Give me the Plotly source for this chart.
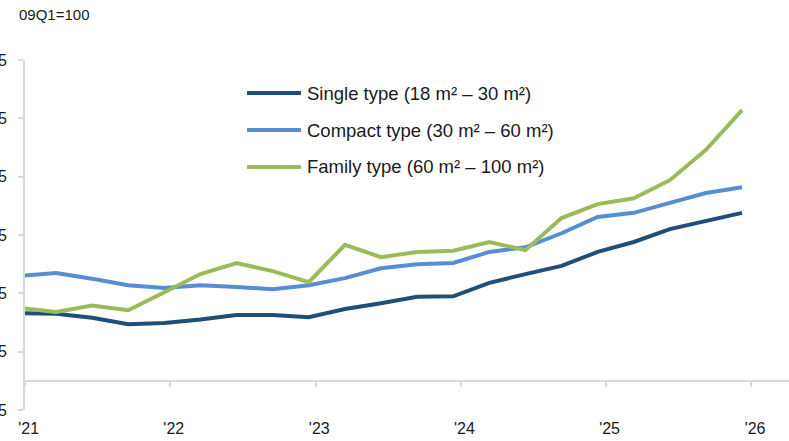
import plotly.graph_objects as go

# quarterly index, 09Q1=100
quarters = list(range(21))
single = [111.6, 111.5, 110.8, 109.7, 109.9, 110.5, 111.3, 111.3, 110.9, 112.3, 113.3,
          114.4, 114.5, 116.8, 118.3, 119.7, 122.1, 123.8, 126.0, 127.4, 128.8]
compact = [118.0, 118.5, 117.5, 116.4, 115.9, 116.4, 116.1, 115.7, 116.4, 117.6, 119.3,
           120.0, 120.2, 122.1, 122.9, 125.3, 128.1, 128.8, 130.5, 132.2, 133.2]
family = [112.5, 111.8, 112.9, 112.1, 115.2, 118.3, 120.2, 118.8, 116.9, 123.3, 121.2,
          122.1, 122.3, 123.8, 122.4, 127.9, 130.3, 131.3, 134.4, 139.6, 146.4]
names = ["Single type (18 m² – 30 m²)",
         "Compact type (30 m² – 60 m²)",
         "Family type (60 m² – 100 m²)"]
colors = ["#1F4E79", "#558ED5", "#9BBB59"]
yearTicks = [0.14, 4.16, 8.19, 12.21, 16.23, 20.26]
yearLabels = ["'21", "'22", "'23", "'24", "'25", "'26"]

axisCol = "#d9d9d9"
textCol = "#1a1a1a"
font = "Liberation Sans, Arial, sans-serif"
xRange = [0.14, 21.3]

fig = go.Figure()
for ys, nm, col in zip([single, compact, family], names, colors):
    fig.add_trace(go.Scatter(x=quarters, y=ys, mode="lines", name=nm,
                             line=dict(color=col, width=4), showlegend=False))

# dummy trace so the crossing axis at 100 gets drawn
fig.add_trace(go.Scatter(x=quarters, y=single, xaxis="x2", mode="lines",
                         line=dict(width=1, color="rgba(0,0,0,0)"), hoverinfo="skip",
                         showlegend=False))

# hand made legend
legY = [0.9057, 0.8, 0.6943]
for nm, col, ly in zip(names, colors, legY):
    fig.add_shape(type="line", xref="paper", yref="paper", x0=0.2906, x1=0.3613,
                  y0=ly, y1=ly, line=dict(color=col, width=4))
    fig.add_annotation(xref="paper", yref="paper", x=0.3665, y=ly, text=nm,
                       xanchor="left", yanchor="middle", showarrow=False,
                       font=dict(size=18.5, color=textCol, family=font))

fig.add_annotation(xref="paper", yref="paper", x=-0.0105, y=1.131, text="09Q1=100",
                   xanchor="left", yanchor="middle", showarrow=False,
                   font=dict(size=15, color=textCol, family=font))

fig.update_layout(
    width=789, height=441,
    margin=dict(l=25, r=0, t=60, b=31, autoexpand=False),
    plot_bgcolor="white", paper_bgcolor="white", hovermode=False,
    font=dict(family=font, size=15, color=textCol),
    # labels sit a touch right of the tick marks, like the original
    xaxis=dict(range=xRange, tickvals=[t + 0.1 for t in yearTicks], ticktext=yearLabels,
               automargin=False, showline=False, showgrid=False, zeroline=False,
               ticks="", ticklabelstandoff=7, tickfont=dict(size=16)),
    xaxis2=dict(overlaying="x", range=xRange, anchor="free", position=(100 - 95) / 60,
                tickvals=yearTicks, showticklabels=False, showline=True,
                linecolor=axisCol, linewidth=2, ticks="outside", ticklen=5,
                tickcolor=axisCol, tickwidth=2, showgrid=False, zeroline=False,
                automargin=False),
    yaxis=dict(range=[95, 155], tick0=95, dtick=10, showline=True, linecolor=axisCol,
               linewidth=2, ticks="outside", ticklen=5, tickcolor=axisCol, tickwidth=2,
               showgrid=False, zeroline=False, ticklabelstandoff=8, automargin=False,
               tickfont=dict(size=16)),
)

# page body has a default 8px margin, drop it so the figure sits at 0,0
fig.write_html("out.html", config={"displayModeBar": False},
               post_script="document.body.style.margin='0';")
